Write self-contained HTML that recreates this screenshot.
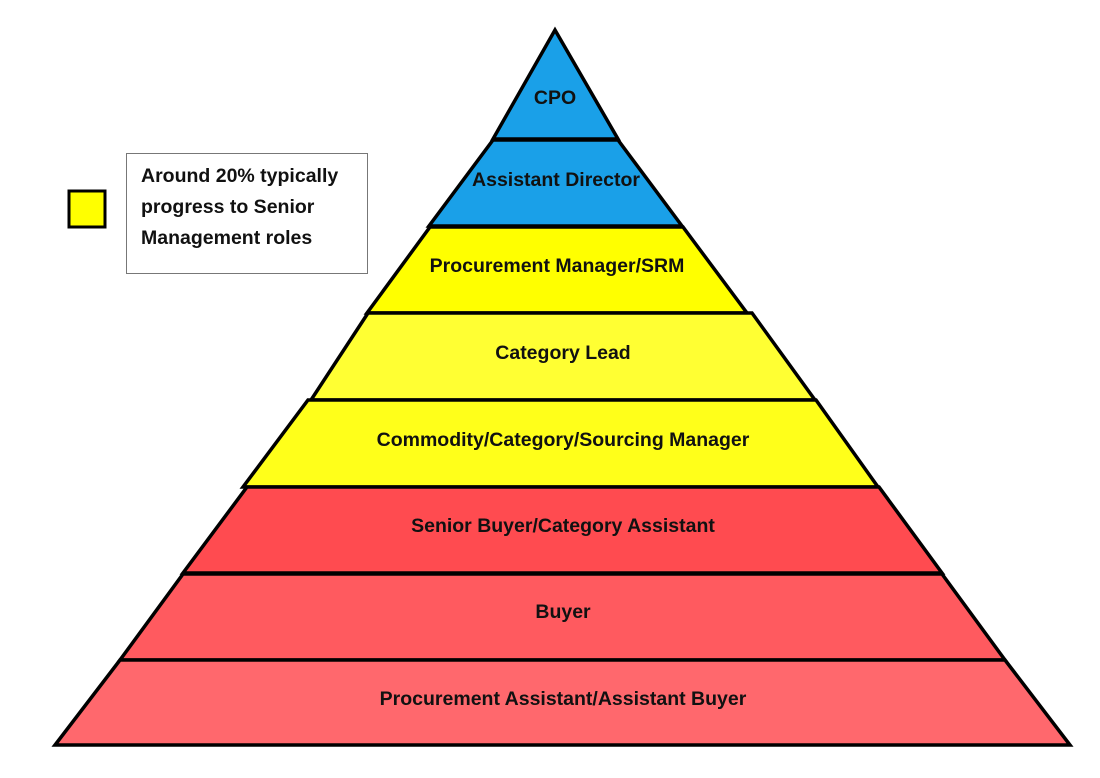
<!DOCTYPE html>
<html><head><meta charset="utf-8"><style>
html,body{margin:0;padding:0;background:#fff;width:1100px;height:778px;overflow:hidden}
svg text{font-family:"Liberation Sans",sans-serif;font-weight:bold;font-size:19.5px;fill:#111}
</style></head><body>
<svg width="1100" height="778" viewBox="0 0 1100 778">
<g stroke="#000" stroke-width="3.5" stroke-linejoin="miter">
<polygon points="555,30 618,139 493,139" fill="#1aa0e8"/>
<polygon points="493,140 618,140 682,226 429,226" fill="#1aa0e8"/>
<polygon points="430,227 683,227 747,313 367,313" fill="#ffff00"/>
<polygon points="368,313 752,313 815,400 311,400" fill="#ffff33"/>
<polygon points="308,400 816,400 878,487 243,487" fill="#ffff1a"/>
<polygon points="247,487 879,487 942,573 183,573" fill="#ff4b50"/>
<polygon points="183,574 942,574 1005,660 120,660" fill="#ff5a5f"/>
<polygon points="120,660 1005,660 1070,745 55,745" fill="#ff686d"/>
</g>
<text x="555" y="104" text-anchor="middle">CPO</text>
<text x="556" y="186" text-anchor="middle">Assistant Director</text>
<text x="557" y="272" text-anchor="middle">Procurement Manager/SRM</text>
<text x="563" y="359" text-anchor="middle">Category Lead</text>
<text x="563" y="446" text-anchor="middle">Commodity/Category/Sourcing Manager</text>
<text x="563" y="532" text-anchor="middle">Senior Buyer/Category Assistant</text>
<text x="563" y="618" text-anchor="middle">Buyer</text>
<text x="563" y="705" text-anchor="middle">Procurement Assistant/Assistant Buyer</text>
<rect x="69" y="191" width="36" height="36" fill="#ffff00" stroke="#000" stroke-width="3"/>
<rect x="126.5" y="153.5" width="241" height="120" fill="#fff" stroke="#777" stroke-width="1"/>
<text x="141" y="182">Around 20% typically</text>
<text x="141" y="213">progress to Senior</text>
<text x="141" y="244">Management roles</text>
</svg>
</body></html>
